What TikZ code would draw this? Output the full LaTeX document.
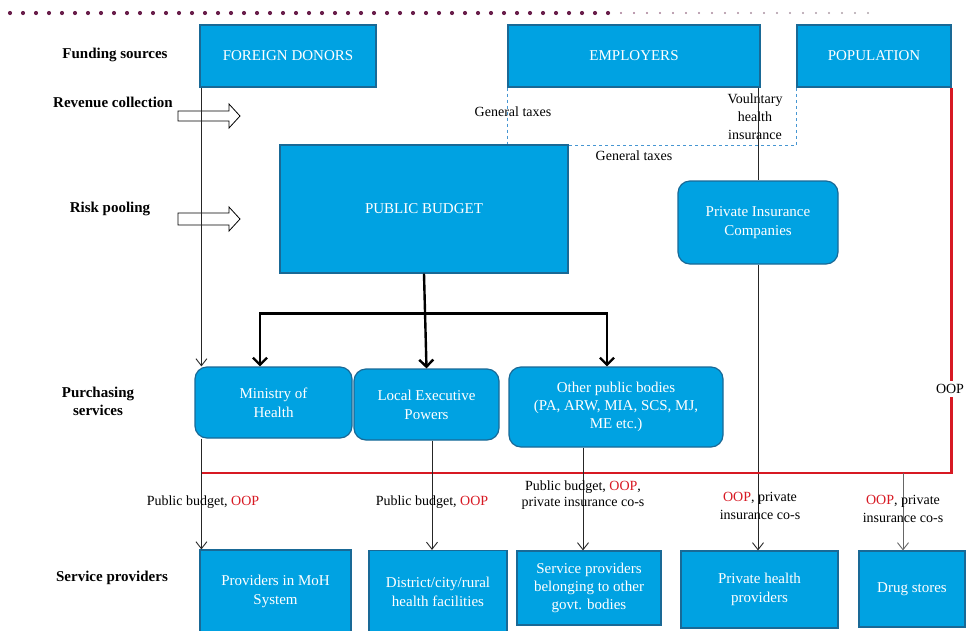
\documentclass[tikz,border=0pt]{standalone}
\usepackage{fontspec}
\setmainfont{Liberation Serif}
\usetikzlibrary{arrows.meta}
\definecolor{boxfill}{RGB}{0,162,226}
\definecolor{boxline}{RGB}{25,105,150}
\definecolor{oopred}{RGB}{215,25,35}
\definecolor{dotpurple}{RGB}{105,30,75}
\definecolor{dashblue}{RGB}{70,150,210}
\begin{document}
\begin{tikzpicture}[x=1pt,y=-1pt,
  box/.style={draw=boxline, line width=1.2pt, fill=boxfill, text=white, align=center,
    font=\fontsize{15}{19}\selectfont, inner sep=2pt},
  rbox/.style={box, rounded corners=12pt},
  lab/.style={font=\fontsize{15}{18}\selectfont\bfseries, align=center},
  txt/.style={font=\fontsize{14}{17}\selectfont, align=center},
  conn/.style={draw=black!85, line width=0.9pt},
  thinarrow/.style={conn, -{Straight Barb[length=7pt,width=11pt]}},
  thickarrow/.style={line width=2.4pt, -{Straight Barb[length=7pt,width=14pt]}},
  oopline/.style={draw=oopred, line width=2.4pt},
  hollow/.style={draw=black, line width=0.8pt, fill=white},
]
\useasboundingbox (0,0) rectangle (967,630);
\clip (0,0) rectangle (967,630);

% top dotted rule
\foreach \i in {0,...,46} {\fill[dotpurple] (10+13*\i,13) circle (2.1pt);}
\foreach \i in {0,...,19} {\pgfmathsetmacro{\shade}{100-4*\i}
  \fill[dotpurple!\shade!gray!60] (621+13*\i,13) circle (1.2pt);}

% left stage labels
\node[lab] (l1) at (115,55) {Funding sources};
\node[lab] (l2) at (113,102) {Revenue collection};
\node[lab] (l3) at (110,209) {Risk pooling};
\node[lab] (l4) at (98,401) {Purchasing\\services};
\node[lab] (l5) at (112,578) {Service providers};

% hollow arrows
\draw[hollow] (178,111) -- (229,111) -- (229,104) -- (240,116) -- (229,128) -- (229,121) -- (178,121) -- cycle;
\draw[hollow] (178,213) -- (229,213) -- (229,207) -- (240,219) -- (229,231) -- (229,225) -- (178,225) -- cycle;

% funding sources
\node[box, minimum width=176pt, minimum height=62pt] (fd) at (288,56) {FOREIGN DONORS};
\node[box, minimum width=252pt, minimum height=62pt] (emp) at (634,56) {EMPLOYERS};
\node[box, minimum width=154pt, minimum height=62pt] (pop) at (874,56) {POPULATION};
% dashed general taxes box (drawn before the budget box)
\draw[dashblue, dashed, line width=0.7pt] (emp.south west) -- ++(0,58) coordinate (dl) -- (dl -| pop.south west) -- (pop.south west);

\node[box, minimum width=288pt, minimum height=128pt] (pb) at (424,209) {PUBLIC BUDGET};
\node[rbox, minimum width=160pt, minimum height=83pt] (pic) at (758,222.5) {Private Insurance\\Companies};

\node[rbox, minimum width=157pt, minimum height=71pt] (moh) at (273.5,402.5) {Ministry of\\Health};
\node[rbox, minimum width=145pt, minimum height=71pt] (lep) at (426.5,404.5) {Local Executive\\Powers};
\node[rbox, minimum width=214pt, minimum height=80pt, font=\fontsize{15}{18}\selectfont] (opb) at (616,407) {Other public bodies\\(PA, ARW, MIA, SCS, MJ,\\ME etc.)};

\node[box, minimum width=151pt, minimum height=82pt] (p1) at (275.5,591) {Providers in MoH\\System};
\node[box, minimum width=138pt, minimum height=82pt] (p2) at (438,591.5) {District/city/rural\\health facilities};
\node[box, minimum width=144pt, minimum height=74pt, font=\fontsize{15}{18}\selectfont] (p3) at (589,588) {Service providers\\belonging to other\\govt. bodies};
\node[box, minimum width=157pt, minimum height=77pt] (p4) at (759.5,589.5) {Private health\\providers};
\node[box, minimum width=106pt, minimum height=76pt] (p5) at (912,589) {Drug stores};

% text labels
\node[txt] (gt1) at (513,112) {General taxes};
\node[txt] (gt2) at (634,156) {General taxes};
\node[txt, font=\fontsize{14}{18}\selectfont] (vhi) at (755,117) {Voulntary\\health\\insurance};
\node[txt] (oopl) at (950,389) {OOP};

% foreign donors to ministry
\coordinate (fdl) at ([xshift=2pt]fd.south west);
\draw[thinarrow] (fdl) -- (fdl |- moh.north);

% employers -> private insurance -> private providers
\draw[conn] (pic.north |- emp.south) -- (pic.north);
\draw[thinarrow] (pic.south) -- (pic.south |- p4.north);

% public budget thick arrows
\coordinate (j) at ([yshift=-40pt]pb.south);
\coordinate (mohin) at ([xshift=-13.5pt]moh.north);
\coordinate (opbin) at ([xshift=-9pt]opb.north);
\draw[thickarrow] (pb.south) -- (lep.north);
\draw[thickarrow] (j) -| (mohin);
\draw[thickarrow] (j) -| (opbin);

% red OOP line
\coordinate (rc) at (pop.south east |- 0,473);
\draw[oopline] (pop.south east) -- (pop.south east |- oopl.north);
\draw[oopline] (pop.south east |- oopl.south) -- (rc) -- (rc -| fdl);

% purchasers -> providers
\coordinate (m1) at ([xshift=7pt]moh.south west);
\draw[thinarrow] (m1) -- (m1 |- p1.north);
\coordinate (m2) at ([xshift=5.5pt]lep.south);
\draw[thinarrow] (m2) -- (m2 |- p2.north);
\coordinate (m3) at ([xshift=-33pt]opb.south);
\draw[thinarrow] (m3) -- (m3 |- p3.north);
\coordinate (m5) at ([xshift=-9pt]p5.north |- rc);
\draw[thinarrow, draw=black!60] (m5) -- ([xshift=-9pt]p5.north);

% flow labels
\node[txt] (f1) at (203,502) {Public budget, \textcolor{oopred}{OOP}};
\node[txt] (f2) at (432,502) {Public budget, \textcolor{oopred}{OOP}};
\node[txt, font=\fontsize{14}{16}\selectfont] (f3) at (583,495) {Public budget, \textcolor{oopred}{OOP},\\private insurance co-s};
\node[txt, font=\fontsize{14}{18}\selectfont] (f4) at (760,506) {\textcolor{oopred}{OOP}, private\\insurance co-s};
\node[txt, font=\fontsize{14}{18}\selectfont] (f5) at (903,509) {\textcolor{oopred}{OOP}, private\\insurance co-s};
\end{tikzpicture}
\end{document}
